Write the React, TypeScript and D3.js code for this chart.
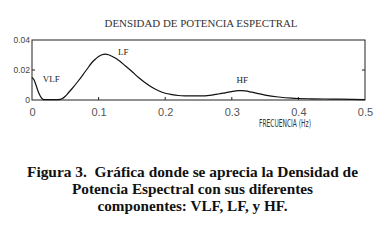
import React from "react";
import * as d3 from "d3";

const freqs = [0, 0.003, 0.006, 0.009, 0.012, 0.015, 0.018, 0.025, 0.035, 0.042, 0.045, 0.05, 0.055, 0.06, 0.07, 0.08, 0.085, 0.09, 0.095, 0.1, 0.105, 0.11, 0.115, 0.12, 0.125, 0.13, 0.14, 0.15, 0.16, 0.17, 0.18, 0.19, 0.2, 0.21, 0.22, 0.23, 0.25, 0.27, 0.28, 0.29, 0.3, 0.31, 0.315, 0.32, 0.33, 0.34, 0.35, 0.37, 0.39, 0.4, 0.42, 0.45, 0.48, 0.5];
const psd = [0.015, 0.0135, 0.01, 0.006, 0.003, 0.001, 0.0003, 0.0002, 0.0002, 0.0004, 0.0008, 0.0025, 0.005, 0.0075, 0.013, 0.019, 0.022, 0.025, 0.0272, 0.029, 0.0302, 0.0306, 0.0302, 0.0292, 0.028, 0.0265, 0.0228, 0.019, 0.015, 0.0115, 0.0085, 0.0062, 0.0045, 0.0036, 0.003, 0.0028, 0.0027, 0.0033, 0.004, 0.0048, 0.0056, 0.0062, 0.0063, 0.0061, 0.0052, 0.0042, 0.0033, 0.002, 0.0012, 0.001, 0.0008, 0.0006, 0.0004, 0.0003];
const xTicks = [0, 0.1, 0.2, 0.3, 0.4, 0.5];
const yTicks = [0, 0.02, 0.04];
const bandLabels = [
  { text: "VLF", f: 0.016, v: 0.012 },
  { text: "LF", f: 0.129, v: 0.03 },
  { text: "HF", f: 0.307, v: 0.0111 },
];
const title = "DENSIDAD DE POTENCIA ESPECTRAL";
const xLabel = "FRECUENCIA (Hz)";
const captionLines = [
  "Figura 3.  Gráfica donde se aprecia la Densidad de",
  "Potencia Espectral con sus diferentes",
  "componentes: VLF, LF, y HF.",
];
const captionWidths = [331, 241, 190];

export default function App() {
  const W = 387, H = 242;
  const x = d3.scaleLinear().domain([0, 0.5]).range([32, 365]);
  const y = d3.scaleLinear().domain([0, 0.04]).range([100, 40]);
  const line = d3
    .line<number>()
    .x((_, i) => x(freqs[i]))
    .y((d) => y(d))
    .curve(d3.curveMonotoneX);
  return (
    <svg
      width={W}
      height={H}
      style={{ position: "absolute", left: 0, top: 0, background: "#fff" }}
    >
      <text
        x={201}
        y={27}
        fontFamily="Liberation Serif, Times New Roman, serif"
        fontSize={10}
        fill="#333"
        textLength={193}
        lengthAdjust="spacingAndGlyphs"
        textAnchor="middle"
      >
        {title}
      </text>
      <rect
        x={x(0)}
        y={y(0.04)}
        width={x(0.5) - x(0)}
        height={y(0) - y(0.04)}
        fill="none"
        stroke="#222"
        strokeWidth={1}
      />
      {xTicks.slice(1, -1).map((t) => (
        <line key={"xt" + t} x1={x(t)} x2={x(t)} y1={y(0)} y2={y(0) - 3} stroke="#222" />
      ))}
      {yTicks.slice(1, -1).map((t) => (
        <g key={"yt" + t}>
          <line x1={x(0)} x2={x(0) + 3} y1={y(t)} y2={y(t)} stroke="#222" />
          <line x1={x(0.5)} x2={x(0.5) - 3} y1={y(t)} y2={y(t)} stroke="#222" />
        </g>
      ))}
      <path d={line(psd) || ""} fill="none" stroke="#111" strokeWidth={1.2} />
      {xTicks.map((t) => (
        <text
          key={"xl" + t}
          x={x(t) + 0.5}
          y={115.5}
          textAnchor="middle"
          fontFamily="Liberation Sans, Arial, sans-serif"
          fontSize={11}
          fill="#555"
        >
          {String(t)}
        </text>
      ))}
      {yTicks.map((t) => (
        <text
          key={"yl" + t}
          x={30}
          y={y(t) + 3}
          textAnchor="end"
          fontFamily="Liberation Sans, Arial, sans-serif"
          fontSize={8.5}
          fill="#444"
        >
          {String(t)}
        </text>
      ))}
      {bandLabels.map((b) => (
        <text
          key={b.text}
          x={x(b.f)}
          y={y(b.v)}
          fontFamily="Liberation Serif, Times New Roman, serif"
          fontSize={9}
          fill="#222"
        >
          {b.text}
        </text>
      ))}
      <text
        x={259}
        y={126.5}
        fontFamily="Liberation Sans Narrow, DejaVu Sans Condensed, Arial, sans-serif"
        fontSize={10.5}
        fill="#333"
        textLength={52}
        lengthAdjust="spacingAndGlyphs"
      >
        {xLabel}
      </text>
      {captionLines.map((l, i) => (
        <text
          key={i}
          x={192.5}
          y={177 + i * 16.8}
          textAnchor="middle"
          fontFamily="Liberation Serif, Times New Roman, serif"
          fontWeight="bold"
          fontSize={14.5}
          fill="#111"
          textLength={captionWidths[i]}
          lengthAdjust="spacingAndGlyphs"
          style={{ whiteSpace: "pre" }}
        >
          {l}
        </text>
      ))}
    </svg>
  );
}
